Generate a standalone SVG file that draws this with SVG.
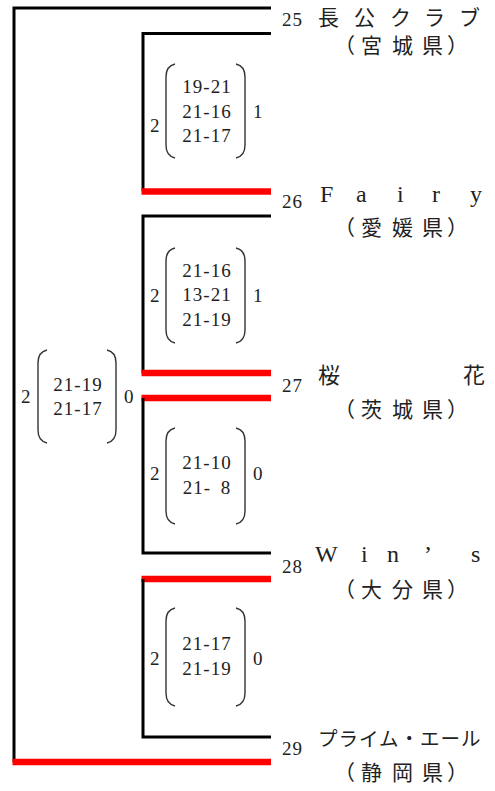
<svg xmlns="http://www.w3.org/2000/svg" width="495" height="791" viewBox="0 0 495 791">
<style>
.blk{fill:none;stroke:#000;stroke-width:3}
.red{fill:none;stroke:#ff0000;stroke-width:6.5}
.par{fill:none;stroke:#333;stroke-width:1.4}
.num{font-family:"Liberation Serif","Times New Roman","DejaVu Serif",serif;font-size:19px;fill:#222;letter-spacing:1px}
.sc{font-family:"Liberation Serif","Times New Roman","DejaVu Serif",serif;font-size:19px;fill:#222;letter-spacing:1px;text-anchor:middle}
.nm{font-family:"Noto Sans CJK JP",sans-serif;font-size:22px;fill:#222}
.nl{font-family:"Liberation Serif","Times New Roman","DejaVu Serif",serif;font-size:24px;fill:#222}
.pf{font-family:"Noto Sans CJK JP",sans-serif;font-size:21px;fill:#222}
</style>
<rect width="495" height="791" fill="#fff"/>
<g id="connectors">
<path class="blk" d="M271 8H14V762"/>
<line class="red" x1="12.5" y1="762" x2="271" y2="762"/>
<path class="blk" d="M271 33.5H143V191"/>
<line class="red" x1="141.5" y1="191.5" x2="271" y2="191.5"/>
<path class="blk" d="M271 216H143V373"/>
<line class="red" x1="141.5" y1="373" x2="271" y2="373"/>
<line class="red" x1="141.5" y1="398" x2="271" y2="398"/>
<path class="blk" d="M143 398V553H271"/>
<line class="red" x1="141.5" y1="579" x2="271" y2="579"/>
<path class="blk" d="M143 579V737H271"/>
</g>
<g id="team-25">
<text class="num" x="282" y="26">25</text>
<text class="nm" x="318 354 390 424 459" y="24.5" style="font-size:21px">長公クラブ</text>
<text class="pf" x="334 361 392 422 447" y="53">（宮城県）</text>
</g>
<g id="team-26">
<text class="num" x="282" y="208">26</text>
<text class="nl" x="320 356 397 432 470" y="202">Fairy</text>
<text class="pf" x="334 361 392 422 447" y="235">（愛媛県）</text>
</g>
<g id="team-27">
<text class="num" x="282" y="392">27</text>
<text class="nm" x="318 463" y="383">桜花</text>
<text class="pf" x="334 361 392 422 447" y="417">（茨城県）</text>
</g>
<g id="team-28">
<text class="num" x="282" y="573">28</text>
<text class="nl" x="315 361 387 424 471" y="562">Win’s</text>
<text class="pf" x="334 361 392 422 447" y="597">（大分県）</text>
</g>
<g id="team-29">
<text class="num" x="282" y="755">29</text>
<text class="nm" x="318" y="746" style="font-size:19.5px;letter-spacing:1px">プライム・エール</text>
<text class="pf" x="334 361 392 422 447" y="780">（静岡県）</text>
</g>
<g id="score-1">
<text class="num" x="150" y="132">2</text>
<path class="par" d="M175 64Q166 66 166 77V145Q166 156 175 158"/>
<path class="par" d="M236 64Q245 66 245 77V145Q245 156 236 158"/>
<text class="sc" x="207" y="93">19-21</text>
<text class="sc" x="207" y="118">21-16</text>
<text class="sc" x="207" y="142">21-17</text>
<text class="num" x="253" y="118">1</text>
</g>
<g id="score-2">
<text class="num" x="150" y="302">2</text>
<path class="par" d="M175 248Q166 250 166 261V330Q166 341 175 343"/>
<path class="par" d="M236 248Q245 250 245 261V330Q245 341 236 343"/>
<text class="sc" x="207" y="277">21-16</text>
<text class="sc" x="207" y="301">13-21</text>
<text class="sc" x="207" y="326">21-19</text>
<text class="num" x="253" y="302">1</text>
</g>
<g id="score-final">
<text class="num" x="21" y="403">2</text>
<path class="par" d="M47 350Q38 352 38 363V430Q38 441 47 443"/>
<path class="par" d="M107 350Q116 352 116 363V430Q116 441 107 443"/>
<text class="sc" x="78" y="391">21-19</text>
<text class="sc" x="78" y="415">21-17</text>
<text class="num" x="124" y="403">0</text>
</g>
<g id="score-3">
<text class="num" x="150" y="480">2</text>
<path class="par" d="M175 428Q166 430 166 441V511Q166 522 175 524"/>
<path class="par" d="M236 428Q245 430 245 441V511Q245 522 236 524"/>
<text class="sc" x="207" y="469">21-10</text>
<text class="sc" x="207" y="494">21- <tspan dx="4">8</tspan></text>
<text class="num" x="253" y="480">0</text>
</g>
<g id="score-4">
<text class="num" x="150" y="665">2</text>
<path class="par" d="M175 608Q166 610 166 621V693Q166 704 175 706"/>
<path class="par" d="M236 608Q245 610 245 621V693Q245 704 236 706"/>
<text class="sc" x="207" y="650">21-17</text>
<text class="sc" x="207" y="675">21-19</text>
<text class="num" x="253" y="665">0</text>
</g>
</svg>
